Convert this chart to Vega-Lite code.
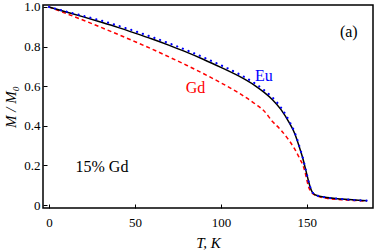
{
  "$schema": "https://vega.github.io/schema/vega-lite/v6.json",
  "width": 330,
  "height": 203,
  "autosize": "none",
  "padding": {"left": 43, "top": 5, "right": 1, "bottom": 42},
  "config": {
    "view": {"stroke": "black", "strokeWidth": 1.5},
    "font": "'Liberation Serif', serif",
    "text": {"font": "'Liberation Serif', serif"},
    "axis": {
      "grid": false,
      "domain": false,
      "ticks": true,
      "tickColor": "black",
      "tickSize": -4,
      "tickWidth": 1,
      "labelFont": "'Liberation Serif', serif",
      "labelFontSize": 13,
      "labelColor": "black",
      "titleFont": "'Liberation Serif', serif",
      "titleFontSize": 15,
      "titleFontWeight": "normal",
      "titleFontStyle": "italic",
      "titleColor": "black"
    }
  },
  "datasets": {
    "curves": [
      {"T": 0, "M": 1.0, "series": "Gd"},
      {"T": 10, "M": 0.967, "series": "Gd"},
      {"T": 20, "M": 0.933, "series": "Gd"},
      {"T": 30, "M": 0.898, "series": "Gd"},
      {"T": 40, "M": 0.862, "series": "Gd"},
      {"T": 50, "M": 0.825, "series": "Gd"},
      {"T": 60, "M": 0.787, "series": "Gd"},
      {"T": 70, "M": 0.747, "series": "Gd"},
      {"T": 80, "M": 0.706, "series": "Gd"},
      {"T": 90, "M": 0.663, "series": "Gd"},
      {"T": 100, "M": 0.617, "series": "Gd"},
      {"T": 110, "M": 0.568, "series": "Gd"},
      {"T": 120, "M": 0.51, "series": "Gd"},
      {"T": 125, "M": 0.476, "series": "Gd"},
      {"T": 130, "M": 0.422, "series": "Gd"},
      {"T": 135, "M": 0.378, "series": "Gd"},
      {"T": 140, "M": 0.322, "series": "Gd"},
      {"T": 143, "M": 0.282, "series": "Gd"},
      {"T": 146, "M": 0.232, "series": "Gd"},
      {"T": 148, "M": 0.195, "series": "Gd"},
      {"T": 149, "M": 0.165, "series": "Gd"},
      {"T": 150, "M": 0.127, "series": "Gd"},
      {"T": 151, "M": 0.092, "series": "Gd"},
      {"T": 152, "M": 0.072, "series": "Gd"},
      {"T": 153, "M": 0.061, "series": "Gd"},
      {"T": 155, "M": 0.05, "series": "Gd"},
      {"T": 160, "M": 0.036, "series": "Gd"},
      {"T": 170, "M": 0.027, "series": "Gd"},
      {"T": 180, "M": 0.022, "series": "Gd"},
      {"T": 185, "M": 0.02, "series": "Gd"},
      {"T": 0, "M": 1.0, "series": "Total"},
      {"T": 10, "M": 0.975, "series": "Total"},
      {"T": 20, "M": 0.95, "series": "Total"},
      {"T": 30, "M": 0.924, "series": "Total"},
      {"T": 40, "M": 0.897, "series": "Total"},
      {"T": 50, "M": 0.868, "series": "Total"},
      {"T": 60, "M": 0.838, "series": "Total"},
      {"T": 70, "M": 0.806, "series": "Total"},
      {"T": 80, "M": 0.772, "series": "Total"},
      {"T": 90, "M": 0.735, "series": "Total"},
      {"T": 100, "M": 0.695, "series": "Total"},
      {"T": 110, "M": 0.653, "series": "Total"},
      {"T": 115, "M": 0.629, "series": "Total"},
      {"T": 120, "M": 0.602, "series": "Total"},
      {"T": 125, "M": 0.57, "series": "Total"},
      {"T": 130, "M": 0.532, "series": "Total"},
      {"T": 135, "M": 0.482, "series": "Total"},
      {"T": 140, "M": 0.412, "series": "Total"},
      {"T": 143, "M": 0.36, "series": "Total"},
      {"T": 146, "M": 0.283, "series": "Total"},
      {"T": 148, "M": 0.225, "series": "Total"},
      {"T": 149, "M": 0.19, "series": "Total"},
      {"T": 150, "M": 0.155, "series": "Total"},
      {"T": 151, "M": 0.12, "series": "Total"},
      {"T": 152, "M": 0.09, "series": "Total"},
      {"T": 153, "M": 0.068, "series": "Total"},
      {"T": 154, "M": 0.057, "series": "Total"},
      {"T": 156, "M": 0.048, "series": "Total"},
      {"T": 160, "M": 0.04, "series": "Total"},
      {"T": 170, "M": 0.03, "series": "Total"},
      {"T": 180, "M": 0.024, "series": "Total"},
      {"T": 185, "M": 0.022, "series": "Total"},
      {"T": 0, "M": 1.0, "series": "Eu"},
      {"T": 10, "M": 0.977, "series": "Eu"},
      {"T": 20, "M": 0.955, "series": "Eu"},
      {"T": 30, "M": 0.932, "series": "Eu"},
      {"T": 40, "M": 0.906, "series": "Eu"},
      {"T": 50, "M": 0.878, "series": "Eu"},
      {"T": 60, "M": 0.848, "series": "Eu"},
      {"T": 70, "M": 0.816, "series": "Eu"},
      {"T": 80, "M": 0.782, "series": "Eu"},
      {"T": 90, "M": 0.745, "series": "Eu"},
      {"T": 100, "M": 0.706, "series": "Eu"},
      {"T": 110, "M": 0.664, "series": "Eu"},
      {"T": 115, "M": 0.64, "series": "Eu"},
      {"T": 120, "M": 0.613, "series": "Eu"},
      {"T": 125, "M": 0.581, "series": "Eu"},
      {"T": 130, "M": 0.543, "series": "Eu"},
      {"T": 135, "M": 0.492, "series": "Eu"},
      {"T": 140, "M": 0.42, "series": "Eu"},
      {"T": 143, "M": 0.366, "series": "Eu"},
      {"T": 146, "M": 0.287, "series": "Eu"},
      {"T": 148, "M": 0.228, "series": "Eu"},
      {"T": 149, "M": 0.192, "series": "Eu"},
      {"T": 150, "M": 0.156, "series": "Eu"},
      {"T": 151, "M": 0.12, "series": "Eu"},
      {"T": 152, "M": 0.09, "series": "Eu"},
      {"T": 153, "M": 0.068, "series": "Eu"},
      {"T": 154, "M": 0.057, "series": "Eu"},
      {"T": 156, "M": 0.048, "series": "Eu"},
      {"T": 160, "M": 0.04, "series": "Eu"},
      {"T": 170, "M": 0.03, "series": "Eu"},
      {"T": 180, "M": 0.024, "series": "Eu"},
      {"T": 185, "M": 0.022, "series": "Eu"}
    ],
    "labels": [
      {"T": 125, "M": 0.65, "label": "Eu", "series": "Eu"},
      {"T": 85.2, "M": 0.59, "label": "Gd", "series": "Gd"},
      {"T": 174.4, "M": 0.874, "label": "(a)", "series": "Total"},
      {"T": 30.8, "M": 0.19, "label": "15% Gd", "series": "Total"}
    ]
  },
  "encoding": {
    "x": {
      "field": "T", "type": "quantitative",
      "scale": {"domain": [-3.5, 188.5], "nice": false, "zero": false},
      "axis": {"values": [0, 50, 100, 150], "title": "T, K", "labelPadding": 12, "titlePadding": 6}
    },
    "y": {
      "field": "M", "type": "quantitative",
      "scale": {"domain": [-0.015, 1.01], "nice": false, "zero": false},
      "axis": {
        "values": [0, 0.2, 0.4, 0.6, 0.8, 1.0],
        "labelExpr": "datum.value == 0 ? '0' : format(datum.value, '.1f')",
        "title": "M / M₀", "labelPadding": 7, "titlePadding": 5
      }
    },
    "color": {
      "field": "series", "type": "nominal",
      "scale": {"domain": ["Eu", "Gd", "Total"], "range": ["#0000ff", "#ff0000", "#000000"]},
      "legend": null
    }
  },
  "layer": [
    {
      "data": {"name": "curves"},
      "transform": [{"filter": "datum.series == 'Gd'"}],
      "mark": {"type": "line", "interpolate": "monotone", "strokeWidth": 1.5, "strokeDash": [4, 3]}
    },
    {
      "data": {"name": "curves"},
      "transform": [{"filter": "datum.series == 'Total'"}],
      "mark": {"type": "line", "interpolate": "monotone", "strokeWidth": 1.5}
    },
    {
      "data": {"name": "curves"},
      "transform": [{"filter": "datum.series == 'Eu'"}],
      "mark": {"type": "line", "interpolate": "monotone", "strokeWidth": 2.2, "strokeDash": [0.1, 6], "strokeCap": "round"}
    },
    {
      "data": {"name": "labels"},
      "mark": {"type": "text", "font": "'Liberation Serif', serif", "fontSize": 16, "align": "center", "baseline": "middle"},
      "encoding": {"text": {"field": "label"}}
    }
  ]
}
